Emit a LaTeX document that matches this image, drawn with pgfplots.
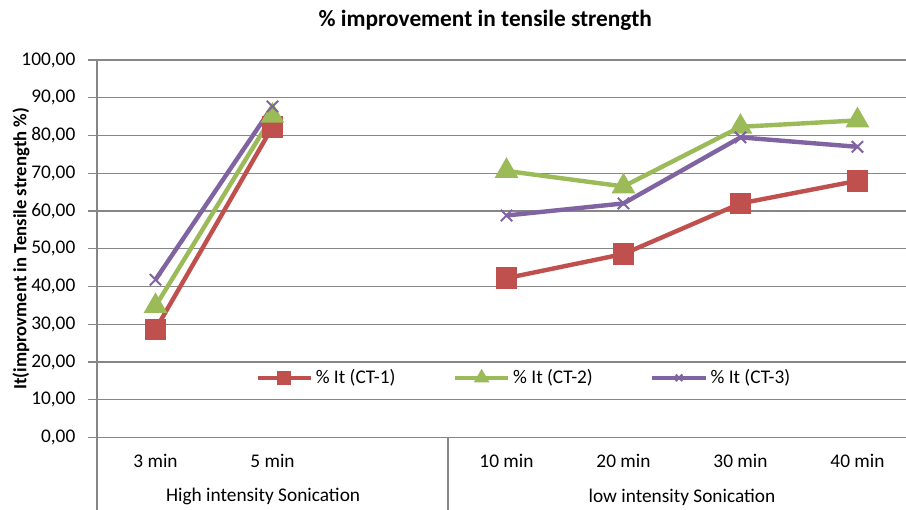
\documentclass[border=0pt]{standalone}
\usepackage{pgfplots}
\pgfplotsset{compat=1.18}
\usepackage{fontspec}
\setmainfont{Carlito}
\definecolor{gridgray}{RGB}{134,134,134}
\definecolor{ct1}{RGB}{192,80,77}
\definecolor{ct2}{RGB}{155,187,89}
\definecolor{ct3}{RGB}{128,100,162}

\begin{document}
\begin{tikzpicture}
\begin{axis}[
  scale only axis,
  clip=false,
  width=606.75pt, height=283.1pt,
  xmin=-0.5, xmax=6.415,
  ymin=0, ymax=100,
  ytick={0,10,...,100},
  xtick={0,1,3,4,5,6},
  xticklabels={3 min,5 min,10 min,20 min,30 min,40 min},
  axis lines*=left,
  axis line style={gridgray, line width=1pt},
  ymajorgrids,
  grid style={gridgray, line width=1pt},
  ytick style={gridgray, line width=1pt},
  xtick style={draw=none},
  tick align=outside,
  major tick length=6.75pt,
  unbounded coords=jump,
  /pgf/number format/fixed,
  /pgf/number format/fixed zerofill,
  /pgf/number format/precision=2,
  /pgf/number format/use comma,
  /pgf/number format/assume math mode=true,
  tick label style={font=\fontsize{14.5}{16}\selectfont, text=black},
  yticklabel style={xshift=-6pt},
  xticklabel style={yshift=-2pt},
  title={\% improvement in tensile strength},
  title style={font=\bfseries\fontsize{17.5}{20}\selectfont, at={(0.48,1)}, anchor=center, yshift=24pt},
  ylabel={It(improvment in Tensile strength \%)},
  every axis y label/.style={at={(rel axis cs:0,0.5)}, xshift=-57pt, rotate=90, anchor=center, font=\bfseries\fontsize{14}{16}\selectfont},
  legend columns=3,
  legend style={at={(0.528,0.158)}, anchor=center, draw=none, fill=none,
    font=\fontsize{14.5}{16}\selectfont,
    /tikz/every even column/.append style={column sep=41pt}},
  legend image code/.code={\draw[mark repeat=2,mark phase=2,#1,mark size=3.5pt] plot coordinates {(0pt,0pt) (20pt,0pt) (40pt,0pt)};},
]
\addplot[ct1, line width=3.3pt, mark=square*, mark size=6.5pt, mark options={solid}]
  coordinates {(0,28.6) (1,82.3) (2,nan) (3,42.2) (4,48.6) (5,62.0) (6,68.0)};
\addlegendentry{\% It (CT-1)}
\addplot[ct2, line width=3.3pt, mark=triangle*, mark size=7pt, mark options={solid}]
  coordinates {(0,34.8) (1,85.2) (2,nan) (3,70.6) (4,66.5) (5,82.3) (6,84.0)};
\addlegendentry{\% It (CT-2)}
\addplot[ct3, line width=3.3pt, mark=x, mark size=6pt, mark options={solid, line width=1.5pt}]
  coordinates {(0,41.8) (1,87.7) (2,nan) (3,58.8) (4,62.0) (5,79.5) (6,77.0)};
\addlegendentry{\% It (CT-3)}
\draw[gridgray, line width=1pt] (axis cs:2.5,0) -- ++(0pt,-56pt);
\draw[gridgray, line width=1pt] (rel axis cs:0,0) -- ++(0pt,-56pt);
\node[font=\fontsize{14.5}{16}\selectfont, yshift=-44.6pt] at (axis cs:0.92,0) {High intensity Sonication};
\node[font=\fontsize{14.5}{16}\selectfont, yshift=-44.6pt] at (axis cs:4.5,0) {low intensity Sonication};
\coordinate (O) at (rel axis cs:0,0);
\end{axis}
\pgfresetboundingbox
\path[use as bounding box] (O) ++(-72.75pt,-54.4pt) rectangle ++(679.5pt,382.5pt);
\end{tikzpicture}
\end{document}
